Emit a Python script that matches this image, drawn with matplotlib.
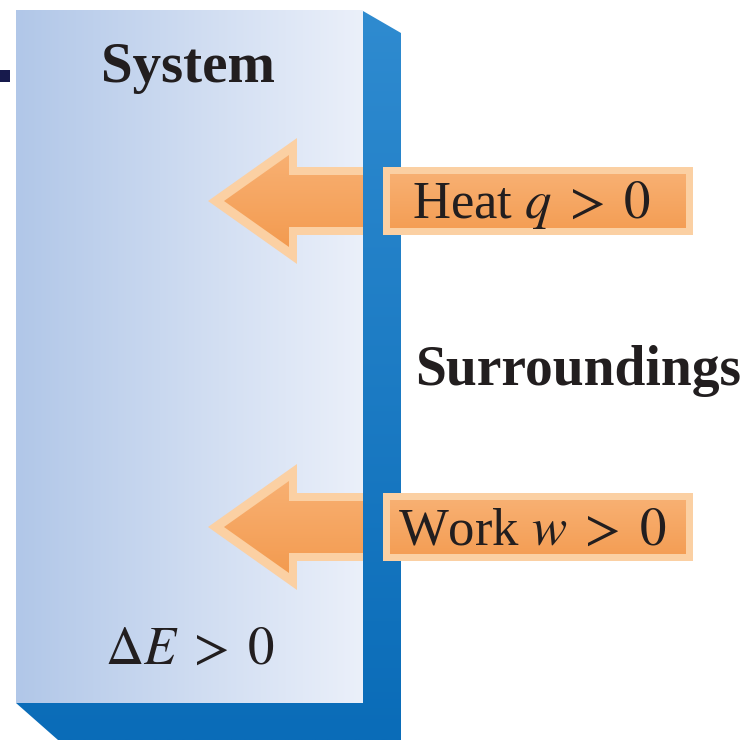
import numpy as np
import matplotlib.pyplot as plt
from matplotlib.patches import Polygon, Rectangle
from matplotlib.colors import LinearSegmentedColormap

plt.rcParams['font.family'] = ['Liberation Serif', 'DejaVu Serif']
plt.rcParams['mathtext.fontset'] = 'stix'

# text content
box_labels = ["System", "Surroundings"]
flow_labels = [r"Heat $q\;>\;0$", r"Work $w\;>\;0$"]
energy_label = r"$\Delta E\;>\;0$"

W, H = 748, 742
flow_y = [201, 527]


def gradient_poly(ax, verts, c0, c1, horizontal=True, z=1):
    poly = Polygon(verts, closed=True, facecolor='none', edgecolor='none', zorder=z)
    ax.add_patch(poly)
    xs = [v[0] for v in verts]
    ys = [v[1] for v in verts]
    cmap = LinearSegmentedColormap.from_list('g', [c0, c1])
    g = np.linspace(0, 1, 256)
    img = g[None, :] if horizontal else g[:, None]
    im = ax.imshow(img, cmap=cmap, extent=(min(xs), max(xs), max(ys), min(ys)),
                   aspect='auto', zorder=z, interpolation='bilinear')
    im.set_clip_path(poly)


def flow_arrow(ax, yc, tip_x=208, back_x=297, end_x=693, hh=63, sh=34, z=2):
    outer = [(tip_x, yc), (back_x, yc - hh), (back_x, yc - sh), (end_x, yc - sh),
             (end_x, yc + sh), (back_x, yc + sh), (back_x, yc + hh)]
    r = 8
    inner = [(tip_x + 16, yc), (back_x - r, yc - hh + 17), (back_x - r, yc - sh + r),
             (end_x - r, yc - sh + r), (end_x - r, yc + sh - r), (back_x - r, yc + sh - r),
             (back_x - r, yc + hh - 17)]
    ax.add_patch(Polygon(outer, closed=True, facecolor='#fbd0a3', edgecolor='none', zorder=z))
    gradient_poly(ax, inner, '#f8b072', '#f39b50', horizontal=False, z=z + 0.1)


def flow_box(ax, yc, x0=383, x1=693, sh=34, z=4):
    r = 7
    ax.add_patch(Rectangle((x0, yc - sh), x1 - x0, 2 * sh, facecolor='#fbd0a3',
                           edgecolor='none', zorder=z))
    inner = [(x0 + r, yc - sh + r), (x1 - r, yc - sh + r), (x1 - r, yc + sh - r), (x0 + r, yc + sh - r)]
    gradient_poly(ax, inner, '#f8b072', '#f49e55', horizontal=False, z=z + 0.1)


fig = plt.figure(figsize=(7.48, 7.42), dpi=100)
ax = fig.add_axes([0, 0, 1, 1])
ax.axis('off')

# front face of the system box
gradient_poly(ax, [(16, 10), (363, 10), (363, 703), (16, 703)], '#b1c7e8', '#ebf0fa', z=1)

# small dark tab at left edge
ax.add_patch(Rectangle((0, 70), 10, 12, facecolor='#171a4c', edgecolor='none', zorder=1))

for y in flow_y:
    flow_arrow(ax, y)

# side and bottom faces (wall)
wall = [(363, 11), (401, 33), (401, 740), (58, 740), (16, 703), (363, 703)]
gradient_poly(ax, wall, '#2f8bd0', '#0a6cb8', horizontal=False, z=3)

for y in flow_y:
    flow_box(ax, y)

txt = '#221e1f'
ax.text(188, 82, box_labels[0], ha='center', va='baseline', fontsize=41,
        fontweight='bold', color=txt, zorder=6)
ax.text(578, 385, box_labels[1], ha='center', va='baseline', fontsize=40,
        fontweight='bold', color=txt, zorder=6)

ax.text(531, 218, flow_labels[0], ha='center', va='baseline', fontsize=38, color=txt, zorder=6)
ax.text(532, 545, flow_labels[1], ha='center', va='baseline', fontsize=38, color=txt, zorder=6)
ax.text(190, 664, energy_label, ha='center', va='baseline', fontsize=38, color=txt, zorder=6)

ax.set_xlim(0, W)
ax.set_ylim(H, 0)
fig.savefig('out.png', dpi=100)
